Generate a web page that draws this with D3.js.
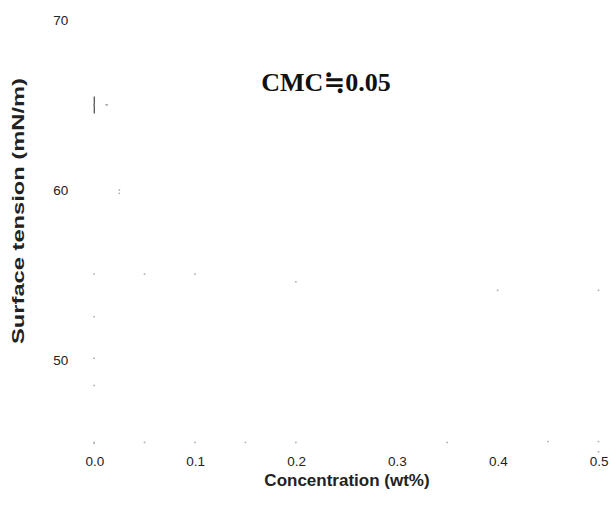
<!DOCTYPE html>
<html>
<head>
<meta charset="utf-8">
<script src="https://cdn.jsdelivr.net/npm/d3@7"></script>
<style>
  html, body { margin: 0; padding: 0; background: #fff; }
  svg { display: block; }
</style>
</head>
<body>
<svg id="chart" width="611" height="506"></svg>
<script>
// Surface tension measurements (concentration in wt%, tension in mN/m)
const concentration = [0.0, 0.012, 0.025, 0.025, 0.0, 0.05, 0.1, 0.2, 0.4, 0.5,
                       0.0, 0.0, 0.0, 0.0, 0.05, 0.1, 0.15, 0.2, 0.35, 0.45, 0.5, 0.5];
const tension = [65.0, 65.0, 60.0, 59.8, 55.05, 55.05, 55.05, 54.6, 54.1, 54.1,
                 52.55, 50.1, 48.5, 45.15, 45.15, 45.15, 45.15, 45.15, 45.15, 45.2, 45.2, 44.6];
// Error bar on the pure-water point
const errConc = [0.0];
const errLow = [64.5];
const errHigh = [65.5];

const xTicks = [0.0, 0.1, 0.2, 0.3, 0.4, 0.5];
const yTicks = [50, 60, 70];
const titleText = "CMC\u22520.05";
const xTitle = "Concentration (wt%)";
const yTitle = "Surface tension (mN/m)";

const svg = d3.select("#chart");
const x = d3.scaleLinear().domain([0, 0.5]).range([94.3, 598.7]);
const y = d3.scaleLinear().domain([45, 70]).range([445, 20]);

// Tick labels only (the axis lines are not drawn)
const gx = svg.append("g").attr("transform", `translate(0,${y(45)})`)
  .call(d3.axisBottom(x).tickValues(xTicks).tickFormat(d3.format(".1f")).tickSize(0).tickPadding(11.5));
const gy = svg.append("g").attr("transform", `translate(${x(0)},0)`)
  .call(d3.axisLeft(y).tickValues(yTicks).tickFormat(d3.format("d")).tickSize(0).tickPadding(26));
[gx, gy].forEach(g => {
  g.select(".domain").remove();
  g.selectAll("text").attr("font-family", "Liberation Sans, Arial, sans-serif")
    .attr("font-size", 13.5).attr("fill", "#222");
});

// Error bar
svg.append("g").selectAll("line").data(errConc).join("line")
  .attr("x1", d => x(d)).attr("x2", d => x(d))
  .attr("y1", (d, i) => y(errHigh[i])).attr("y2", (d, i) => y(errLow[i]))
  .attr("stroke", "#555").attr("stroke-width", 1.3);

// Data marks
svg.append("g").selectAll("rect").data(concentration).join("rect")
  .attr("x", d => x(d) - 1)
  .attr("y", (d, i) => y(tension[i]) - 0.75)
  .attr("width", (d, i) => i === 1 ? 2.5 : 1.6)
  .attr("height", (d, i) => i === 1 ? 1.2 : (i === 13 ? 2.4 : 1.5))
  .attr("fill", (d, i) => i <= 1 ? "#888" : "#aaa");

// Chart title
svg.append("text").attr("x", 326).attr("y", 90.5).attr("text-anchor", "middle")
  .attr("font-family", "Liberation Serif, Times New Roman, DejaVu Serif, serif")
  .attr("font-weight", "bold").attr("font-size", 26).attr("fill", "#111")
  .text(titleText);

// Axis titles
svg.append("text").attr("x", 347).attr("y", 486).attr("text-anchor", "middle")
  .attr("font-family", "Liberation Sans, Arial, sans-serif")
  .attr("font-weight", "bold").attr("font-size", 17).attr("fill", "#222")
  .text(xTitle);
svg.append("text").attr("transform", "translate(24,211) rotate(-90)").attr("text-anchor", "middle")
  .attr("font-family", "Liberation Sans, Arial, sans-serif")
  .attr("font-weight", "bold").attr("font-size", 16).attr("fill", "#222")
  .attr("textLength", 266).attr("lengthAdjust", "spacingAndGlyphs")
  .text(yTitle);
</script>
</body>
</html>
